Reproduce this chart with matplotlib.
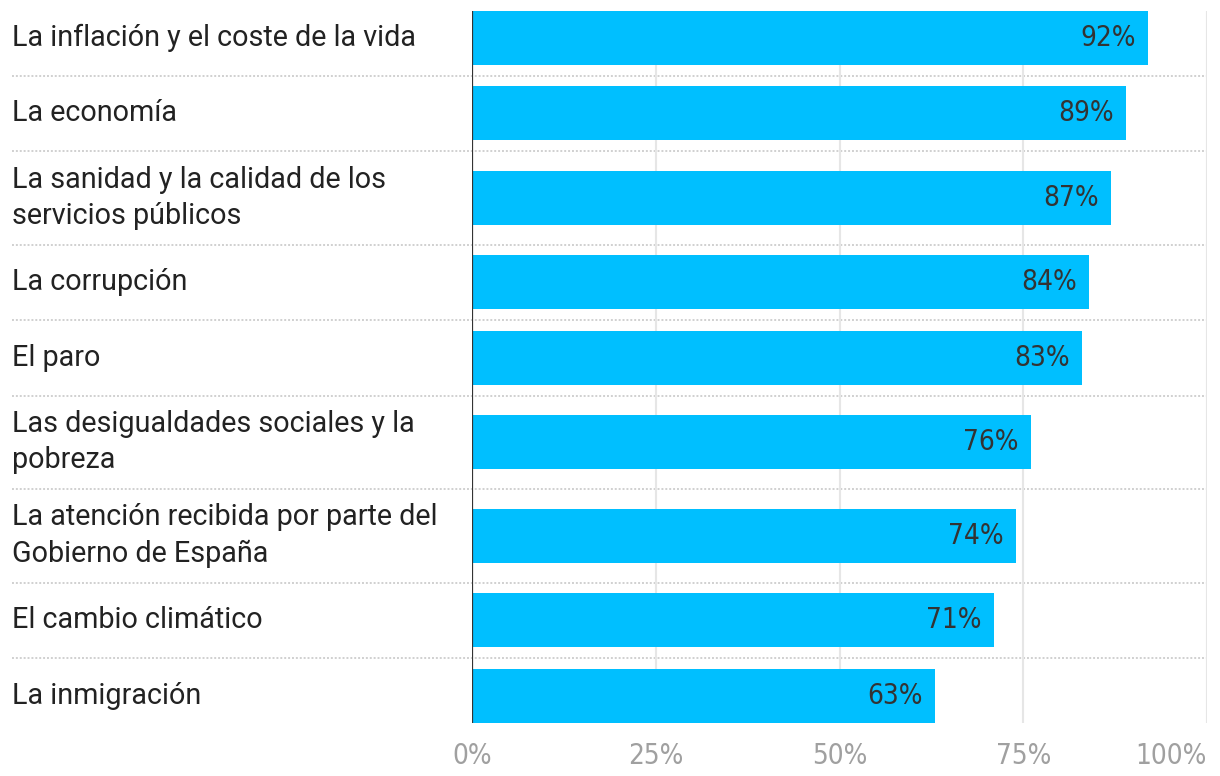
import numpy as np
import matplotlib.pyplot as plt
from matplotlib.transforms import blended_transform_factory

labels = [
    "La inflación y el coste de la vida",
    "La economía",
    "La sanidad y la calidad de los\nservicios públicos",
    "La corrupción",
    "El paro",
    "Las desigualdades sociales y la\npobreza",
    "La atención recibida por parte del\nGobierno de España",
    "El cambio climático",
    "La inmigración",
]
values = [92, 89, 87, 84, 83, 76, 74, 71, 63]
ticks = [0, 25, 50, 75, 100]
tick_labels = ["0%", "25%", "50%", "75%", "100%"]

W, H = 1220, 776
ROW_1, ROW_2, BAR_H = 75.5, 93.5, 54  # row heights in px (1 / 2 line labels)

heights = np.array([ROW_2 if "\n" in l else ROW_1 for l in labels])
tops = np.concatenate([[0], np.cumsum(heights)[:-1]])
centers = tops + heights / 2
total = heights.sum()

fig = plt.figure(figsize=(W / 100, H / 100), dpi=100)
ax = fig.add_axes([472 / W, 1 - total / H, 735 / W, total / H])

ax.barh(centers, values, height=BAR_H, color="#00BFFF", zorder=2)
ax.set_xlim(0, 100)
ax.set_ylim(total, 0)

y0, y1 = centers[0] - BAR_H / 2, centers[-1] + BAR_H / 2
ax.vlines(ticks[1:], y0, y1, color="#e6e6e6", lw=1.5, zorder=1)
ax.vlines(0, y0, y1, color="#333333", lw=1.6, zorder=3)

trans = blended_transform_factory(fig.transFigure, ax.transData)
for y in tops[1:]:
    ax.plot([12 / W, 1207 / W], [y, y], transform=trans, clip_on=False,
            color="#d0d0d0", lw=1.4, ls=(0, (1, 1)), zorder=0)

for c, lab in zip(centers, labels):
    ax.text(12 / W, c, lab, transform=trans, ha="left", va="center",
            fontsize=20.7, family=["Roboto", "DejaVu Sans"], color="#222222",
            linespacing=1.38)

narrow = dict(family=["DejaVu Sans"], stretch="condensed")
for c, v in zip(centers, values):
    ax.text(v - 1.7, c, f"{v}%", ha="right", va="center", fontsize=20,
            color="#333333", zorder=4, **narrow)

ax.set_yticks([])
ax.set_xticks(ticks)
ax.set_xticklabels(tick_labels, fontsize=20, color="#a0a0a0", **narrow)
ax.get_xticklabels()[-1].set_ha("right")
ax.tick_params(axis="x", length=0, pad=6)
for s in ax.spines.values():
    s.set_visible(False)

fig.savefig("out.png", dpi=100)
